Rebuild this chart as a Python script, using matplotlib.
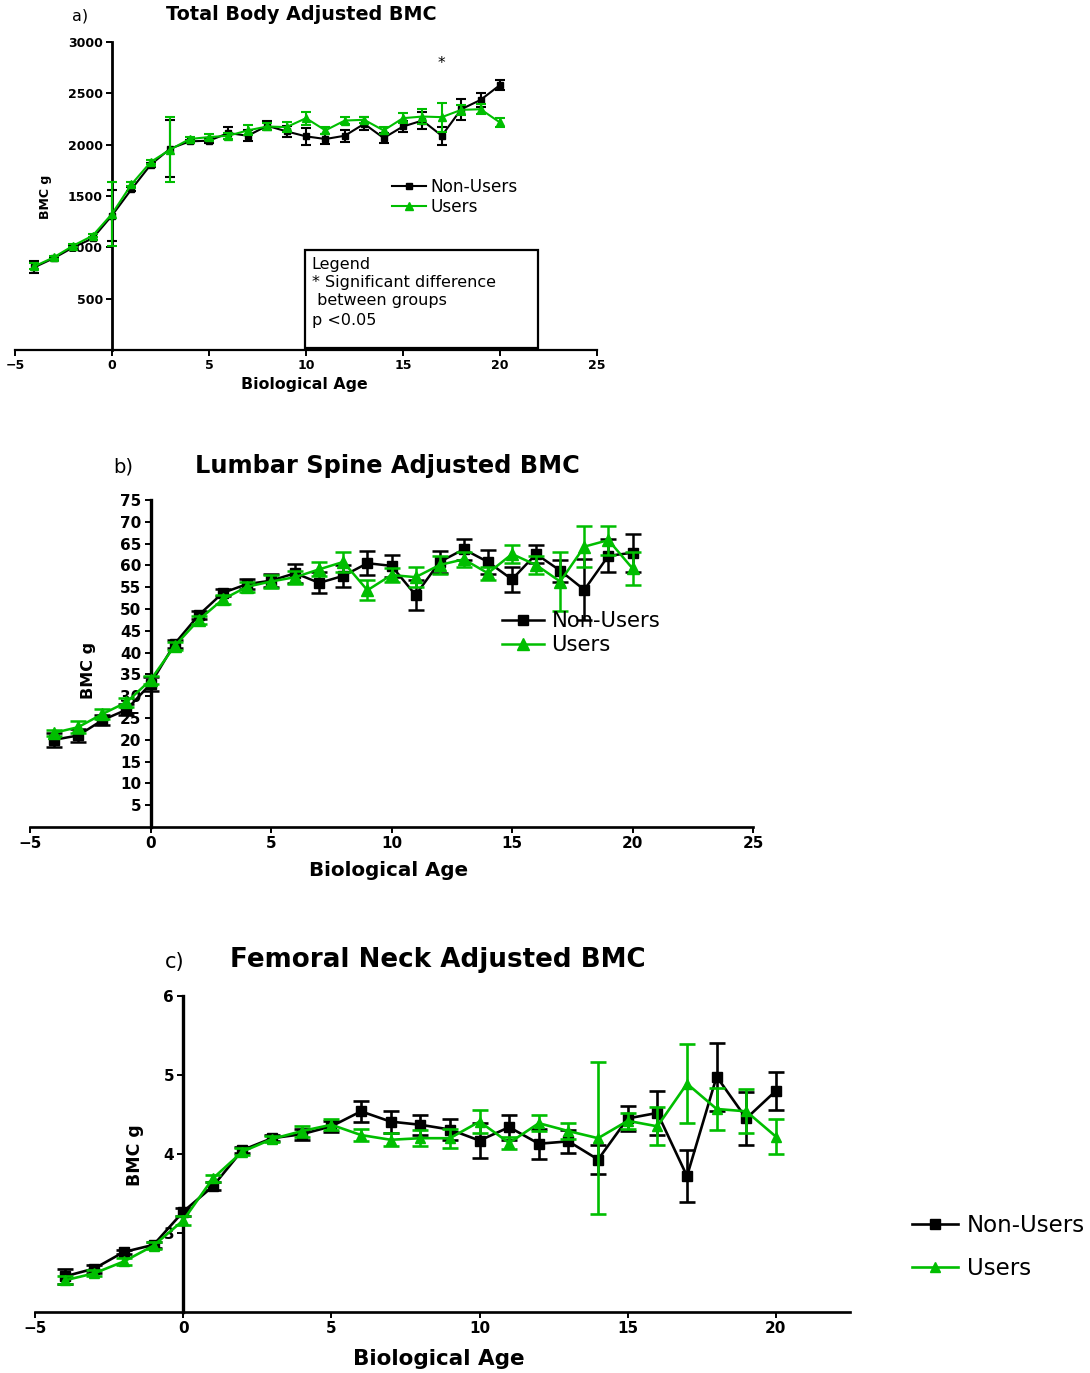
import matplotlib
matplotlib.use('Agg')
import matplotlib.pyplot as plt
from matplotlib.patches import Rectangle

# Biological age (years from peak height velocity)
age = [-4, -3, -2, -1, 0, 1, 2, 3, 4, 5, 6, 7, 8, 9, 10, 11, 12, 13, 14, 15, 16, 17, 18, 19, 20]

# a) Total body adjusted BMC (g)
tb_non = [806, 894, 1000, 1087, 1310, 1565, 1806, 1961, 2032, 2039, 2113, 2087, 2184,
          2129, 2081, 2055, 2087, 2203, 2065, 2177, 2235, 2087, 2345, 2436, 2581]
tb_non_err = [60, 15, 15, 15, 250, 20, 20, 275, 15, 25, 56, 56, 45,
              52, 84, 53, 60, 65, 52, 53, 80, 89, 103, 65, 48]
tb_users = [815, 903, 1016, 1113, 1326, 1613, 1832, 1952, 2055, 2074, 2087, 2139, 2177,
            2171, 2258, 2139, 2235, 2242, 2139, 2258, 2274, 2268, 2339, 2345, 2216]
tb_users_err = [30, 15, 15, 15, 310, 20, 20, 315, 15, 30, 30, 48, 35,
                52, 65, 35, 32, 29, 32, 48, 75, 140, 48, 48, 45]

# b) Lumbar spine adjusted BMC (g)
ls_non = [20.0, 21.0, 24.5, 26.9, 32.8, 42.0, 48.6, 53.7, 55.7, 56.5, 58.2, 56.0, 57.6,
          60.5, 59.9, 53.2, 60.8, 63.7, 60.8, 56.8, 62.6, 58.8, 54.4, 62.2, 62.9]
ls_non_err = [1.6, 1.4, 1.2, 1.2, 1.6, 1.0, 1.0, 0.8, 1.2, 1.5, 2.2, 2.4, 2.5,
              2.8, 2.6, 3.4, 2.5, 2.4, 2.7, 2.8, 2.0, 2.5, 7.0, 3.8, 4.4]
ls_users = [21.6, 22.9, 25.9, 28.6, 33.7, 41.5, 47.5, 52.2, 55.1, 56.3, 57.3, 59.1, 60.8,
            54.3, 57.8, 57.3, 60.1, 61.4, 58.2, 62.6, 60.1, 56.3, 64.3, 65.8, 59.3]
ls_users_err = [0.7, 1.4, 1.2, 1.0, 1.0, 1.0, 1.0, 1.0, 1.2, 1.5, 1.5, 1.6, 2.2,
                2.3, 1.6, 2.3, 2.0, 1.7, 1.5, 2.0, 2.0, 6.8, 4.7, 3.3, 3.7]

# c) Femoral neck adjusted BMC (g)
fn_non = [2.45, 2.55, 2.76, 2.85, 3.27, 3.59, 4.05, 4.20, 4.25, 4.35, 4.54, 4.41, 4.37,
          4.31, 4.17, 4.34, 4.13, 4.16, 3.93, 4.45, 4.52, 3.72, 4.98, 4.45, 4.80]
fn_non_err = [0.10, 0.05, 0.03, 0.04, 0.05, 0.05, 0.04, 0.04, 0.07, 0.07, 0.13, 0.14, 0.13,
              0.13, 0.22, 0.16, 0.19, 0.15, 0.18, 0.16, 0.28, 0.33, 0.43, 0.33, 0.24]
fn_users = [2.40, 2.49, 2.64, 2.84, 3.16, 3.69, 4.03, 4.19, 4.29, 4.37, 4.24, 4.18, 4.20,
            4.20, 4.41, 4.14, 4.39, 4.29, 4.20, 4.42, 4.35, 4.89, 4.57, 4.54, 4.22]
fn_users_err = [0.05, 0.04, 0.04, 0.04, 0.06, 0.05, 0.04, 0.04, 0.07, 0.07, 0.08, 0.08, 0.10,
                0.12, 0.15, 0.08, 0.10, 0.10, 0.96, 0.10, 0.24, 0.50, 0.27, 0.28, 0.22]

series_labels = ['Non-Users', 'Users']
GREEN = '#00BE00'
W, H = 1090, 1373


def fx(px):
    return px / W


def fy(py):
    return 1 - py / H


def axes_box(x0, x1, ytop, ybot):
    # pixel box -> figure fraction rect
    return [fx(x0), fy(ybot), (x1 - x0) / W, (ybot - ytop) / H]


def draw_panel(ax, non, non_err, users, users_err, lw, ms, cap, tick_fs, spine_w):
    c1 = ax.errorbar(age, non, yerr=non_err, color='black', marker='s', ms=ms, lw=lw,
                     elinewidth=lw, capsize=cap, capthick=lw, zorder=3)
    c2 = ax.errorbar(age, users, yerr=users_err, color=GREEN, marker='^', ms=ms + 1, lw=lw,
                     elinewidth=lw, capsize=cap, capthick=lw, zorder=4)
    ax.spines['top'].set_visible(False)
    ax.spines['right'].set_visible(False)
    ax.spines['left'].set_position(('data', 0))
    ax.spines['left'].set_linewidth(spine_w)
    ax.spines['bottom'].set_linewidth(spine_w * 0.8)
    ax.tick_params(axis='both', direction='out', length=4.5, width=1.4, labelsize=tick_fs, pad=2)
    for lab in ax.get_xticklabels() + ax.get_yticklabels():
        lab.set_fontweight('bold')
    return c1[0], c2[0]


fig = plt.figure(figsize=(10.9, 13.73), dpi=100)

# ---------------- a) Total body ----------------
ax_a = fig.add_axes(axes_box(15, 597, 42, 350))
ax_a.set_xlim(-5, 25)
ax_a.set_ylim(0, 3000)
ax_a.set_xticks([-5, 0, 5, 10, 15, 20, 25])
ax_a.set_yticks([500, 1000, 1500, 2000, 2500, 3000])
h1, h2 = draw_panel(ax_a, tb_non, tb_non_err, tb_users, tb_users_err,
                    lw=1.5, ms=4.5, cap=3.5, tick_fs=9, spine_w=2.0)
ax_a.text(17, 2790, '*', ha='center', va='center', fontsize=11)
ax_a.legend([h1, h2], series_labels, loc='center left', frameon=False,
            bbox_to_anchor=(fx(392), fy(197)), bbox_transform=fig.transFigure,
            fontsize=12.2, handlelength=2.0, handletextpad=0.25, labelspacing=0.1,
            borderpad=0, borderaxespad=0, numpoints=1)
ax_a.add_patch(Rectangle((0.498, 0.0065), 0.401, 0.318, transform=ax_a.transAxes,
                         fill=False, lw=1.6, ec='black', zorder=5))
box_lines = ['Legend', '* Significant difference', ' between groups', 'p <0.05']
for txt, py in zip(box_lines, [265, 283, 301, 320]):
    ax_a.text(0.510, (350 - py) / 308, txt, transform=ax_a.transAxes, ha='left',
              va='center', fontsize=11.5)
fig.text(fx(80), fy(16), 'a)', ha='center', va='center', fontsize=11.5)
fig.text(fx(301), fy(15), 'Total Body Adjusted BMC', ha='center', va='center',
         fontsize=13.8, fontweight='bold')
fig.text(fx(304), fy(385), 'Biological Age', ha='center', va='center',
         fontsize=11.3, fontweight='bold')
fig.text(fx(45), fy(197), 'BMC g', ha='center', va='center', rotation=90,
         fontsize=9, fontweight='bold')

# ---------------- b) Lumbar spine ----------------
ax_b = fig.add_axes(axes_box(30, 753, 500, 827))
ax_b.set_xlim(-5, 25)
ax_b.set_ylim(0, 75)
ax_b.set_xticks([-5, 0, 5, 10, 15, 20, 25])
ax_b.set_yticks(range(5, 80, 5))
h1, h2 = draw_panel(ax_b, ls_non, ls_non_err, ls_users, ls_users_err,
                    lw=1.8, ms=7, cap=5.5, tick_fs=11, spine_w=2.4)
ax_b.legend([h1, h2], series_labels, loc='center left', frameon=False,
            bbox_to_anchor=(fx(502), fy(633)), bbox_transform=fig.transFigure,
            fontsize=15.2, handlelength=2.0, handletextpad=0.35, labelspacing=0.2,
            borderpad=0, borderaxespad=0, numpoints=1)
fig.text(fx(123), fy(467), 'b)', ha='center', va='center', fontsize=14)
fig.text(fx(387), fy(466), 'Lumbar Spine Adjusted BMC', ha='center', va='center',
         fontsize=17.3, fontweight='bold')
fig.text(fx(389), fy(870), 'Biological Age', ha='center', va='center',
         fontsize=14.3, fontweight='bold')
fig.text(fx(88), fy(670), 'BMC g', ha='center', va='center', rotation=90,
         fontsize=11.5, fontweight='bold')

# ---------------- c) Femoral neck ----------------
ax_c = fig.add_axes(axes_box(35, 850, 996, 1312))
ax_c.set_xlim(-5, 22.5)
ax_c.set_ylim(2, 6)
ax_c.set_xticks([-5, 0, 5, 10, 15, 20])
ax_c.set_yticks([3, 4, 5, 6])
h1, h2 = draw_panel(ax_c, fn_non, fn_non_err, fn_users, fn_users_err,
                    lw=1.9, ms=6.5, cap=6, tick_fs=11, spine_w=2.4)
fig.legend([h1, h2], series_labels, loc='center left', frameon=False,
           bbox_to_anchor=(fx(912), fy(1247)), fontsize=16.5, handlelength=2.0,
           handletextpad=0.4, labelspacing=0.9, borderpad=0, borderaxespad=0,
           numpoints=1)
fig.text(fx(175), fy(962), 'c)', ha='center', va='center', fontsize=15)
fig.text(fx(438), fy(960), 'Femoral Neck Adjusted BMC', ha='center', va='center',
         fontsize=18.8, fontweight='bold')
fig.text(fx(439), fy(1359), 'Biological Age', ha='center', va='center',
         fontsize=15.5, fontweight='bold')
fig.text(fx(135), fy(1155), 'BMC g', ha='center', va='center', rotation=90,
         fontsize=12.5, fontweight='bold')

plt.savefig('out.png', dpi=100)
